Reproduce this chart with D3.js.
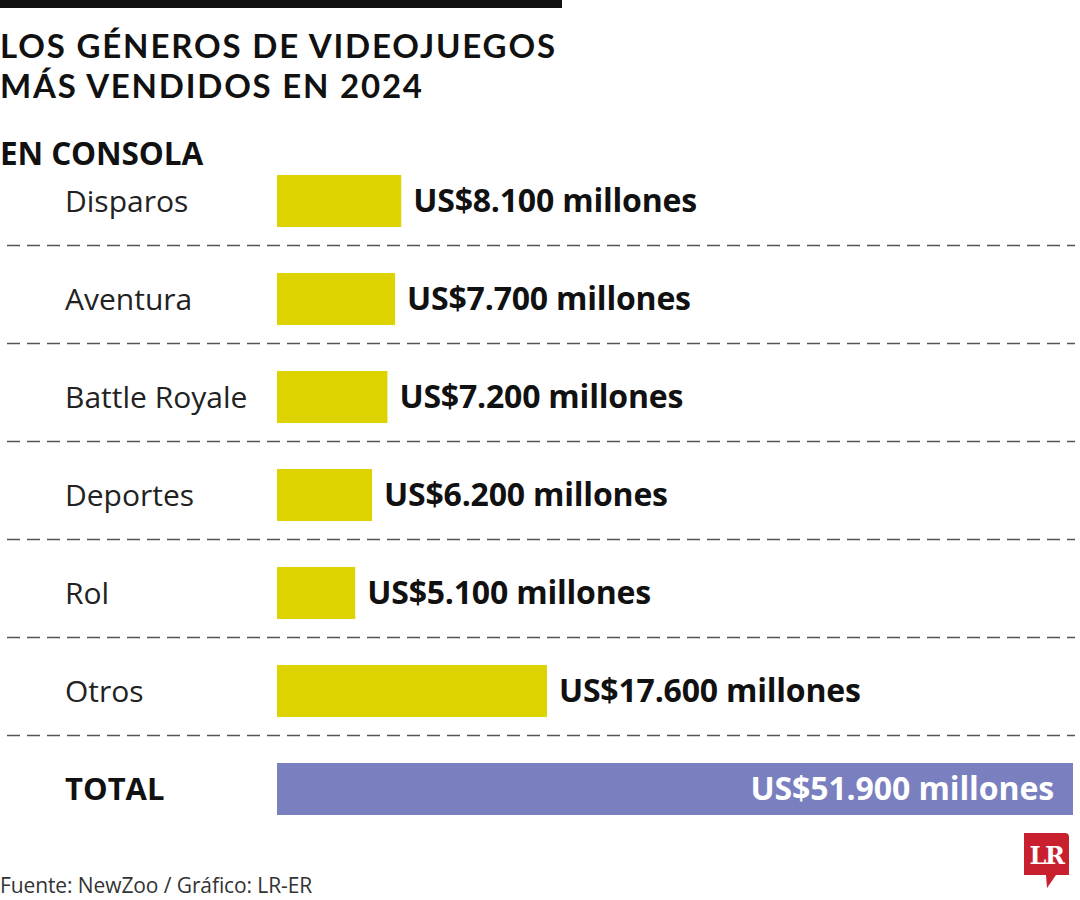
<!DOCTYPE html>
<html>
<head>
<meta charset="utf-8">
<script src="https://cdn.jsdelivr.net/npm/d3@7"></script>
<style>
  body { margin: 0; background: #fff; }
  svg { display: block; }
</style>
</head>
<body>
<svg id="chart" width="1080" height="900"></svg>
<script>
// Chart data
const categories = ["Disparos", "Aventura", "Battle Royale", "Deportes", "Rol", "Otros"];
const values = [8100, 7700, 7200, 6200, 5100, 17600];
const totalLabel = "TOTAL";
const totalValue = 51900;

const titleLines = ["LOS GÉNEROS DE VIDEOJUEGOS", "MÁS VENDIDOS EN 2024"];
const subtitle = "EN CONSOLA";
const source = "Fuente: NewZoo / Gráfico: LR-ER";

const FONT = "'Open Sans', 'Noto Sans', sans-serif";
const TITLE_FONT = "Lato, 'Open Sans', sans-serif";
const yellow = "#dcd300";
const purple = "#7a7fbf";

const svg = d3.select("#chart");

// es-CO style number: 8.100
const locale = d3.formatLocale({ decimal: ",", thousands: ".", grouping: [3], currency: ["US$", ""] });
const fmt = (v) => "US$" + locale.format(",")(v) + " millones";

// top rule
svg.append("rect").attr("x", 0).attr("y", 0).attr("width", 562).attr("height", 8).attr("fill", "#111");

// title (widths taken from the reference lines)
const titleWidths = [555, 422];
svg.selectAll("text.title")
  .data(titleLines)
  .join("text")
  .attr("class", "title")
  .attr("x", 0)
  .attr("y", (d, i) => 58 + i * 40)
  .attr("font-family", TITLE_FONT)
  .attr("font-weight", 700)
  .attr("font-size", 33)
  .attr("textLength", (d, i) => titleWidths[i])
  .attr("lengthAdjust", "spacing")
  .attr("fill", "#111")
  .text((d) => d);

svg.append("text")
  .attr("x", 0).attr("y", 165)
  .attr("font-family", FONT).attr("font-weight", 700)
  .attr("font-size", 31.5).attr("letter-spacing", -0.1)
  .attr("fill", "#111")
  .text(subtitle);

// scales
const rows = [...categories, totalLabel];
const p = 46 / 98;
const y = d3.scaleBand().domain(rows).range([129, 861]).paddingInner(p).paddingOuter(p);
const x = d3.scaleLinear().domain([0, totalValue]).range([277, 1073]);

// dashed separators
svg.selectAll("line.sep")
  .data(categories)
  .join("line")
  .attr("class", "sep")
  .attr("x1", 7).attr("x2", 1075)
  .attr("y1", (d) => y(d) + y.bandwidth() + 18.5)
  .attr("y2", (d) => y(d) + y.bandwidth() + 18.5)
  .attr("stroke", "#555")
  .attr("stroke-width", 1.5)
  .attr("stroke-dasharray", "13 7");

// category bars
const rowsG = svg.selectAll("g.row")
  .data(categories.map((c, i) => ({ c, v: values[i] })))
  .join("g").attr("class", "row");

rowsG.append("rect")
  .attr("x", x(0))
  .attr("y", (d) => y(d.c))
  .attr("width", (d) => x(d.v) - x(0))
  .attr("height", y.bandwidth())
  .attr("fill", yellow);

rowsG.append("text")
  .attr("x", 65)
  .attr("y", (d) => y(d.c) + y.bandwidth() / 2 + 11)
  .attr("font-family", FONT).attr("font-size", 30)
  .attr("fill", "#222")
  .text((d) => d.c);

rowsG.append("text")
  .attr("x", (d) => x(d.v) + 12)
  .attr("y", (d) => y(d.c) + y.bandwidth() / 2 + 11)
  .attr("font-family", FONT).attr("font-weight", 700).attr("font-size", 32)
  .attr("letter-spacing", -0.2)
  .attr("fill", "#111")
  .text((d) => fmt(d.v));

// total
svg.append("rect")
  .attr("x", x(0)).attr("y", y(totalLabel))
  .attr("width", x(totalValue) - x(0)).attr("height", y.bandwidth())
  .attr("fill", purple);

svg.append("text")
  .attr("x", 65).attr("y", y(totalLabel) + y.bandwidth() / 2 + 11)
  .attr("font-family", FONT).attr("font-weight", 700).attr("font-size", 31)
  .attr("fill", "#111")
  .text(totalLabel);

svg.append("text")
  .attr("x", x(totalValue) - 19).attr("y", y(totalLabel) + y.bandwidth() / 2 + 11)
  .attr("text-anchor", "end")
  .attr("font-family", FONT).attr("font-weight", 700).attr("font-size", 32)
  .attr("letter-spacing", -0.1).attr("fill", "#fff")
  .text(fmt(totalValue));

// source
svg.append("text")
  .attr("x", 0).attr("y", 893)
  .attr("font-family", FONT).attr("font-size", 21)
  .attr("letter-spacing", -0.1).attr("fill", "#333")
  .text(source);

// LR logo
const logo = svg.append("g").attr("transform", "translate(1024,833)");
logo.append("path")
  .attr("d", "M0,0 H41 Q45,0 45,4 V42 H32 L23,55 L22,42 H0 Z")
  .attr("fill", "#c8202f");
logo.append("text")
  .attr("x", 22.5).attr("y", 31)
  .attr("text-anchor", "middle")
  .attr("font-family", "'DejaVu Serif', 'Liberation Serif', serif")
  .attr("font-weight", 700).attr("font-size", 24)
  .attr("letter-spacing", -1.5)
  .attr("fill", "#fff")
  .text("LR");
</script>
</body>
</html>
